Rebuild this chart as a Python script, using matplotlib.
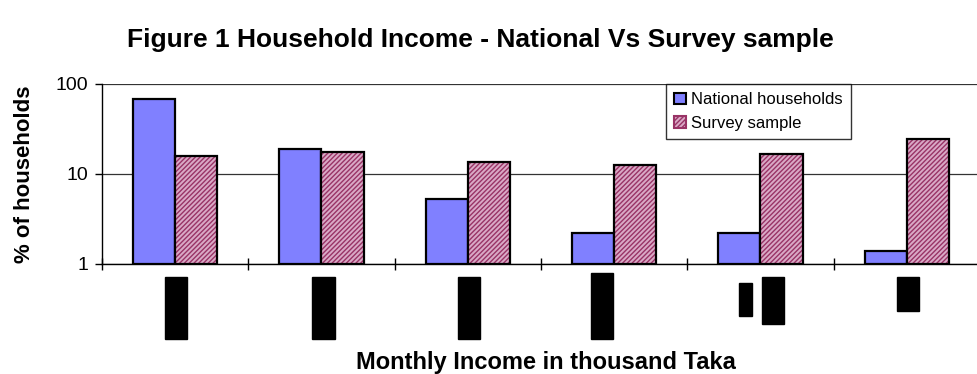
import matplotlib.pyplot as plt
import matplotlib.patches as mpatches
import numpy as np

plt.rcParams['font.family'] = ['Liberation Sans', 'DejaVu Sans']

groups = ['', '', '', '', '', '']  # income band labels are blacked out
national = [69, 19, 5.3, 2.2, 2.2, 1.4]
survey = [16, 17.5, 13.6, 12.7, 16.8, 24.5]

W, H = 978, 374

# black boxes covering the income band labels (pixel boxes: x0, y0, x1, y1 from top-left)
label_boxes = [
    (165, 277, 187, 339),
    (312, 277, 335, 339),
    (458, 277, 480, 339),
    (591, 273, 613, 339),
    (739, 283, 752, 316),
    (762, 277, 784, 324),
    (897, 277, 919, 311),
]

fig = plt.figure(figsize=(W / 100, H / 100), dpi=100)
ax = fig.add_axes([102 / W, 110 / H, 878 / W, 180 / H])

x = np.arange(len(groups))
bw = 0.288
base = 1  # log axis floor; bars rise from 1 up to their value
nat_h = np.array(national) - base
sur_h = np.array(survey) - base
ax.bar(x - bw / 2, nat_h, bw, bottom=base, color='#8080ff', edgecolor='black',
       linewidth=1.6, zorder=3)
# hatched fill first, then the black outline on top
ax.bar(x + bw / 2, sur_h, bw, bottom=base, color='#d9a9c6', edgecolor='#993366',
       hatch='///////', linewidth=0, zorder=3)
ax.bar(x + bw / 2, sur_h, bw, bottom=base, fill=False, edgecolor='black',
       linewidth=1.6, zorder=4)

ax.set_yscale('log')
ax.set_ylim(1, 100)
ax.set_xlim(-0.5, 5.5)
ax.set_yticks([1, 10, 100])
ax.set_yticklabels(['1', '10', '100'], fontsize=14)
ax.yaxis.set_minor_locator(plt.NullLocator())
ax.grid(axis='y', color='#333333', linewidth=0.9, zorder=0)

ax.set_xticks(np.arange(-0.5, 6, 1))
ax.set_xticklabels([])
ax.tick_params(axis='x', direction='inout', length=9, width=1)
ax.tick_params(axis='y', direction='out', length=5, width=1, pad=5)

for s in ['top', 'right']:
    ax.spines[s].set_visible(False)
for s in ['left', 'bottom']:
    ax.spines[s].set_linewidth(1)

ax.set_ylabel('% of households', fontsize=16, fontweight='bold', labelpad=15)
fig.text(546 / W, 1 - 362 / H, 'Monthly Income in thousand Taka', fontsize=17,
         fontweight='bold', ha='center', va='center')
fig.text(480 / W, 1 - 40 / H, 'Figure 1 Household Income - National Vs Survey sample',
         fontsize=19, fontweight='bold', ha='center', va='center')

h_nat = mpatches.Patch(facecolor='#8080ff', edgecolor='black', linewidth=1.5)
h_sur = mpatches.Patch(facecolor='#d9a9c6', edgecolor='#993366', hatch='///////', linewidth=1.5)
leg = ax.legend([h_nat, h_sur], ['National households', 'Survey sample'],
                loc='upper left', bbox_to_anchor=((666 - 102) / 878, 1.0),
                fontsize=12, frameon=True, fancybox=False, handlelength=0.7,
                handleheight=0.7, handletextpad=0.3, borderpad=0.5,
                labelspacing=0.5, borderaxespad=0)
leg.get_frame().set_edgecolor('black')
leg.get_frame().set_linewidth(1)

for x0, y0, x1, y1 in label_boxes:
    fig.add_artist(mpatches.Rectangle((x0 / W, 1 - y1 / H), (x1 - x0) / W, (y1 - y0) / H,
                                      transform=fig.transFigure, color='black'))

fig.savefig('out.png', dpi=100)
